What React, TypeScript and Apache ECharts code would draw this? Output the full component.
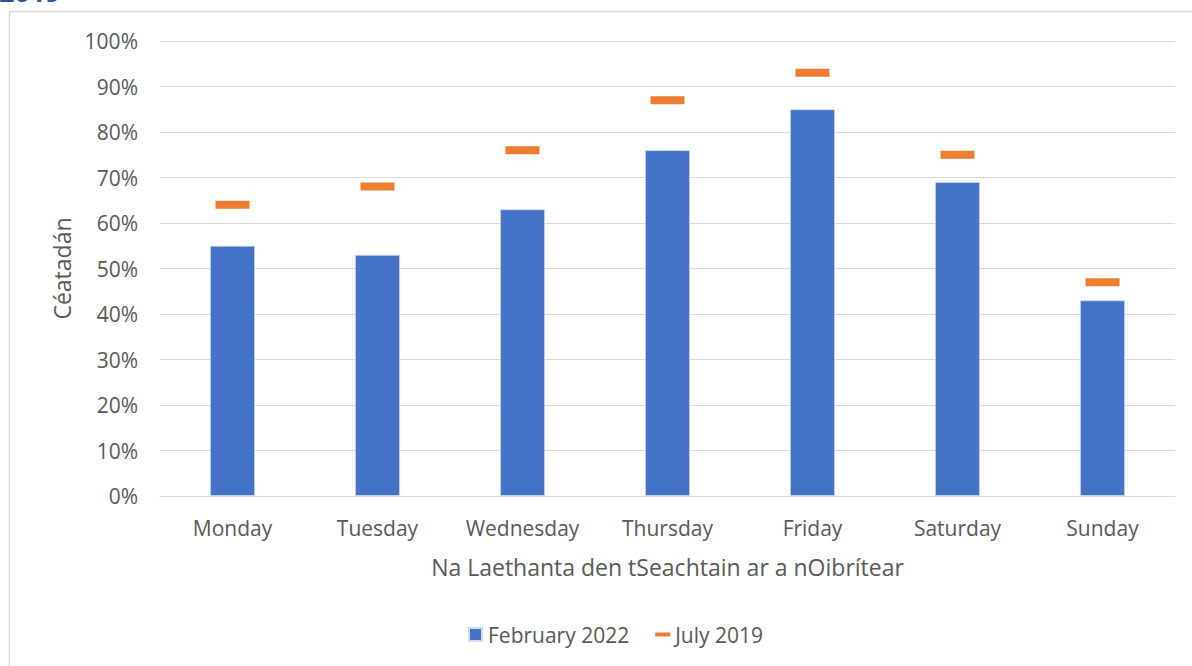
import React, { useEffect, useRef } from "react";
import * as echarts from "echarts";

const days = ["Monday", "Tuesday", "Wednesday", "Thursday", "Friday", "Saturday", "Sunday"];
const feb2022 = [55, 53, 63, 76, 85, 69, 43];
const jul2019 = [64, 68, 76, 87, 93, 75, 47];
const yTicks = [0, 10, 20, 30, 40, 50, 60, 70, 80, 90, 100];

const FONT = "'Open Sans', sans-serif";
const GREY = "#595959";

export default function App() {
  const ref = useRef<HTMLDivElement>(null);
  useEffect(() => {
    if (!ref.current) return;
    const chart = echarts.init(ref.current, undefined, { renderer: "svg" });
    chart.setOption({
      animation: false,
      backgroundColor: "#ffffff",
      textStyle: { fontFamily: FONT },
      grid: { left: 160, right: 17, top: 41, bottom: 170, containLabel: false },
      graphic: [
        {
          type: "rect",
          shape: { x: 9.5, y: 11.5, width: 1300, height: 800 },
          style: { fill: "none", stroke: "#D9D9D9", lineWidth: 1.5 },
          z: 0,
        },
        {
          type: "text",
          x: -1,
          y: 5,
          style: {
            text: "2019",
            fontFamily: FONT,
            fontWeight: "bold",
            fontSize: 27,
            fill: "#2F5597",
            verticalAlign: "bottom",
          },
        },
      ],
      legend: {
        bottom: 16,
        left: 463,
        itemWidth: 15,
        itemHeight: 13,
        itemGap: 26,
        textStyle: { color: GREY, fontSize: 21, fontFamily: FONT },
        data: [
          { name: "February 2022", icon: "path://M0,0h12v12h-12z" },
          { name: "July 2019", icon: "path://M0,0h15v4h-15z" },
        ],
      },
      xAxis: {
        type: "category",
        data: days,
        name: "Na Laethanta den tSeachtain ar a nOibrítear",
        nameLocation: "middle",
        nameGap: 59,
        nameTextStyle: { color: GREY, fontSize: 23, fontFamily: FONT },
        axisLine: { lineStyle: { color: "#D9D9D9", width: 1 } },
        axisTick: { show: false },
        axisLabel: { color: GREY, fontSize: 21, margin: 21, interval: 0, fontFamily: FONT },
      },
      yAxis: {
        type: "value",
        min: 0,
        max: 100,
        interval: 10,
        name: "Céatadán",
        nameLocation: "middle",
        nameGap: 85,
        nameRotate: 90,
        nameTextStyle: { color: GREY, fontSize: 23, fontFamily: FONT },
        axisLine: { show: false },
        axisTick: { show: false },
        splitLine: { lineStyle: { color: "#D9D9D9", width: 1 } },
        axisLabel: {
          color: GREY,
          fontSize: 21,
          margin: 22,
          fontFamily: FONT,
          formatter: (v: number) => (yTicks.includes(v) ? v + "%" : ""),
        },
      },
      series: [
        {
          name: "February 2022",
          type: "bar",
          data: feb2022,
          barWidth: 45,
          itemStyle: { color: "#4472C4", borderColor: "#D0DCF2", borderWidth: 0.8 },
        },
        {
          name: "July 2019",
          type: "scatter",
          data: jul2019,
          symbol: "rect",
          symbolSize: [34, 8],
          itemStyle: { color: "#ED7D31", opacity: 1 },
          z: 3,
        },
      ],
    });
    return () => chart.dispose();
  }, []);
  return (
    <div
      ref={ref}
      style={{ position: "fixed", left: 0, top: 0, width: 1192, height: 666 }}
    />
  );
}
